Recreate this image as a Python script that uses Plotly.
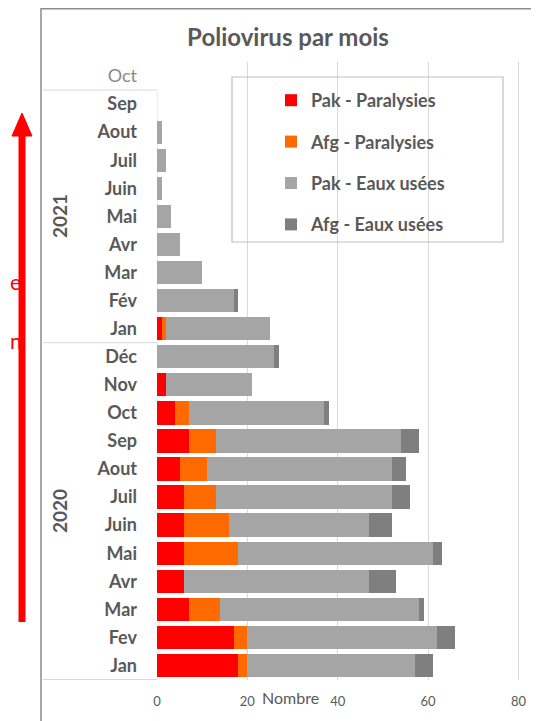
import plotly.graph_objects as go

# ---- data (Jan 2020 -> Oct 2021) ----
years = ["2020"] * 12 + ["2021"] * 10
months = ["Jan", "Fev", "Mar", "Avr", "Mai", "Juin", "Juil", "Aout", "Sep", "Oct", "Nov", "Déc",
          "Jan", "Fév", "Mar", "Avr", "Mai", "Juin", "Juil", "Aout", "Sep", "Oct"]
pak_paralysies = [18, 17, 7, 6, 6, 6, 6, 5, 7, 4, 2, 0, 1, 0, 0, 0, 0, 0, 0, 0, 0, 0]
afg_paralysies = [2, 3, 7, 0, 12, 10, 7, 6, 6, 3, 0, 0, 1, 0, 0, 0, 0, 0, 0, 0, 0, 0]
pak_eaux = [37, 42, 44, 41, 43, 31, 39, 41, 41, 30, 19, 26, 23, 17, 10, 5, 3, 1, 2, 1, 0, 0]
afg_eaux = [4, 4, 1, 6, 2, 5, 4, 3, 4, 1, 0, 1, 0, 1, 0, 0, 0, 0, 0, 0, 0, 0]
x_ticks = [0, 20, 40, 60, 80]

series = [
    ("Pak - Paralysies", pak_paralysies, "#FF0000"),
    ("Afg - Paralysies", afg_paralysies, "#FF6A00"),
    ("Pak - Eaux usées", pak_eaux, "#A5A5A5"),
    ("Afg - Eaux usées", afg_eaux, "#7F7F7F"),
]

keys = [f"{y}-{m}-{i}" for i, (y, m) in enumerate(zip(years, months))]
ticktext = [f"<b>{m}</b>" for m in months]
ticktext[-1] = "<span style='color:#8a8a8a'>Oct</span>"

# page has an 8px body margin: work in page coordinates and convert
OFF = 8
W, H = 539 - OFF, 721 - OFF
PL, PR, PT, PB = 157 - OFF, 523 - OFF, 62 - OFF, 680 - OFF


def px(v):  # page x -> paper
    return (v - OFF - PL) / (PR - PL)


def py(v):  # page y -> paper
    return (PB - (v - OFF)) / (PB - PT)


FONT = "Lato"
GREY = "#595959"

fig = go.Figure()
for i, (name, vals, col) in enumerate(series):
    fig.add_trace(go.Bar(
        y=keys, x=vals, name=name, orientation="h",
        marker=dict(color=col, line=dict(width=0)),
        legendgroup=f"g{i}",
    ))

shapes = []
line_col = "#d9d9d9"
for yb in [-0.5, 11.5, 20.5]:
    shapes.append(dict(type="line", xref="paper", yref="y", x0=px(43), x1=0, y0=yb, y1=yb,
                       line=dict(color=line_col, width=1)))
shapes.append(dict(type="line", xref="x", yref="y", x0=0, x1=0, y0=-0.5, y1=20.5,
                   line=dict(color=line_col, width=1), layer="below"))
# legend box
shapes.append(dict(type="rect", xref="paper", yref="paper", x0=px(232), x1=px(503), y0=py(242), y1=py(77),
                   line=dict(color="#bfbfbf", width=1.2), fillcolor="rgba(0,0,0,0)"))
# chart border
shapes.append(dict(type="rect", xref="paper", yref="paper", x0=px(41), x1=px(532), y0=py(740), y1=py(8.8),
                   line=dict(color="#8c8c8c", width=1.5), fillcolor="rgba(0,0,0,0)"))
# red arrow
shapes.append(dict(type="line", xref="paper", yref="paper", x0=px(22), x1=px(22), y0=py(622), y1=py(132),
                   line=dict(color="#FF0000", width=7)))
shapes.append(dict(type="path", xref="paper", yref="paper",
                   path=f"M {px(12)},{py(136)} L {px(22)},{py(113)} L {px(32)},{py(136)} Z",
                   fillcolor="#FF0000", line=dict(color="#FF0000", width=1)))

annotations = [
    dict(text="<b>2021</b>", xref="paper", yref="paper", x=px(59), y=py(216), textangle=-90,
         xanchor="center", yanchor="middle",
         showarrow=False, font=dict(size=19, color=GREY, family=FONT)),
    dict(text="<b>2020</b>", xref="paper", yref="paper", x=px(59), y=py(511), textangle=-90,
         xanchor="center", yanchor="middle",
         showarrow=False, font=dict(size=19, color=GREY, family=FONT)),
    dict(text="Nombre", xref="paper", yref="paper", x=px(290), y=py(697),
         xanchor="center", yanchor="middle",
         showarrow=False, font=dict(size=16, color=GREY, family=FONT)),
    dict(text="e", xref="paper", yref="paper", x=px(8), y=py(281), xanchor="left", yanchor="middle",
         showarrow=False, font=dict(size=21, color="#FF0000", family=FONT)),
    dict(text="n", xref="paper", yref="paper", x=px(8), y=py(340), xanchor="left", yanchor="middle",
         showarrow=False, font=dict(size=21, color="#FF0000", family=FONT)),
]

fig.update_layout(
    width=W, height=H,
    margin=dict(l=PL, r=W - PR, t=PT, b=H - PB),
    paper_bgcolor="white", plot_bgcolor="white",
    barmode="stack", bargap=0.17,
    title=dict(text="<b>Poliovirus par mois</b>", xref="container", x=(288 - OFF) / W, xanchor="center",
               y=1 - (38 - OFF) / H, yanchor="middle", font=dict(size=24, color=GREY, family=FONT)),
    font=dict(family=FONT, color=GREY),
    xaxis=dict(range=[0, 81], tickvals=x_ticks, showgrid=True, gridcolor=line_col, gridwidth=1,
               zeroline=False, showline=False, tickfont=dict(size=13, color=GREY, family=FONT),
               ticklabelstandoff=12, fixedrange=True),
    yaxis=dict(type="category", categoryorder="array", categoryarray=keys,
               tickvals=keys, ticktext=ticktext, showgrid=False, zeroline=False, showline=False,
               tickfont=dict(size=18, color=GREY, family=FONT), ticklabelstandoff=19),
    legend=dict(x=px(271), xanchor="left", y=py(82), yanchor="top", traceorder="grouped",
                tracegroupgap=15, bgcolor="rgba(0,0,0,0)", borderwidth=0,
                font=dict(size=18, color=GREY, family=FONT, weight="bold")),
    shapes=shapes, annotations=annotations,
)

fig.write_html("out.html")
